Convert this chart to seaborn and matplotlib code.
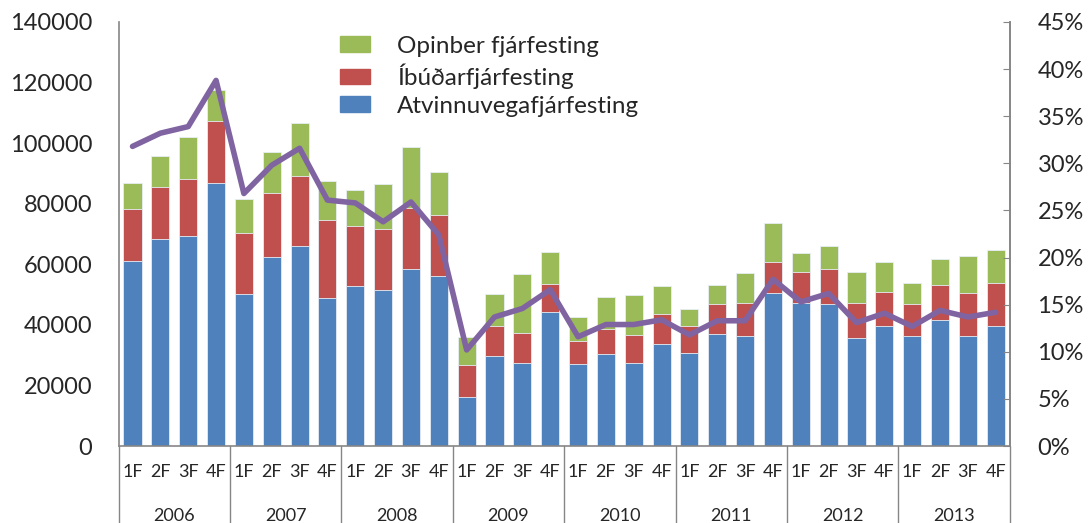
import numpy as np
import pandas as pd
import matplotlib
matplotlib.use("Agg")
import matplotlib.pyplot as plt
import matplotlib.transforms as mtransforms
from matplotlib.patches import Patch
from matplotlib.ticker import PercentFormatter
import seaborn as sns

sns.set_style("white")
plt.rcParams['font.family'] = ['Lato', 'DejaVu Sans']

ar = ['2006', '2007', '2008', '2009', '2010', '2011', '2012', '2013']
fjordungar = ['1F', '2F', '3F', '4F']

# m.kr. á fjórðungi
atvinnuvega = [61.1, 68.2, 69.5, 86.7, 50.1, 62.5, 66.1, 48.8,
               52.7, 51.5, 58.3, 56.3, 16.1, 29.6, 27.5, 44.2,
               27.0, 30.4, 27.6, 33.6, 30.7, 37.0, 36.5, 50.6,
               47.1, 47.0, 35.6, 39.7, 36.2, 41.5, 36.5, 39.8]
ibudar = [17.1, 17.3, 18.7, 20.7, 20.4, 21.2, 23.0, 25.8,
          20.0, 20.1, 20.2, 20.0, 10.7, 9.9, 9.9, 9.4,
          7.8, 8.3, 9.1, 10.0, 9.0, 9.8, 10.6, 10.2,
          10.4, 11.3, 11.7, 11.2, 10.8, 11.6, 14.1, 14.0]
opinber = [8.6, 10.4, 13.8, 10.1, 11.0, 13.3, 17.4, 12.9,
           11.8, 14.8, 20.2, 14.1, 9.1, 10.8, 19.4, 10.4,
           7.8, 10.4, 13.1, 9.3, 5.4, 6.4, 9.9, 12.7,
           6.1, 7.7, 10.1, 9.8, 6.9, 8.5, 12.1, 11.0]
# hlutfall (hægri ás)
hlutfall = [31.8, 33.2, 33.9, 38.8, 26.8, 29.8, 31.6, 26.1,
            25.8, 23.8, 25.9, 22.4, 10.2, 13.7, 14.6, 16.6,
            11.6, 12.9, 12.9, 13.4, 11.8, 13.3, 13.3, 17.7,
            15.3, 16.2, 13.1, 14.1, 12.7, 14.4, 13.7, 14.2]

df = pd.DataFrame({
    'nr': np.arange(len(atvinnuvega)),
    'atv': np.array(atvinnuvega) * 1000,
    'ibu': np.array(ibudar) * 1000,
    'opi': np.array(opinber) * 1000,
    'hlut': np.array(hlutfall) / 100,
})
df['lag2'] = df['atv'] + df['ibu']
df['lag3'] = df['lag2'] + df['opi']

blar = '#4F81BD'
raudur = '#C0504D'
graenn = '#9BBB59'
fjolubl = '#8064A2'
grar = '#868686'

fig, ax = plt.subplots(figsize=(10.88, 5.23), dpi=100)
fig.subplots_adjust(left=0.109, right=0.928, bottom=0.147, top=0.958)

for col, c in [('lag3', graenn), ('lag2', raudur), ('atv', blar)]:
    sns.barplot(x='nr', y=col, data=df, color=c, width=0.65, ax=ax,
                edgecolor='#E8EEF5', linewidth=0.6, saturation=1)

ax.set_xlim(-0.5, len(df) - 0.5)
ax.set_ylim(0, 140000)
ax.set_yticks(np.arange(0, 140001, 20000))
ax.tick_params(axis='y', labelsize=17, length=0, pad=19)
ax.set_xticks(df['nr'])
ax.set_xticklabels(fjordungar * len(ar), fontsize=13)
ax.tick_params(axis='x', length=0, pad=13)
ax.set_xlabel('')
ax.set_ylabel('')
for s in ['left', 'bottom', 'right']:
    ax.spines[s].set_color(grar)
    ax.spines[s].set_linewidth(1.2)
ax.spines['top'].set_visible(False)

# ár og skilalínur undir ásnum
trans = mtransforms.blended_transform_factory(ax.transData, ax.transAxes)
for i in range(len(ar) + 1):
    ax.plot([i * 4 - 0.5] * 2, [0, -0.185], transform=trans, color=grar,
            lw=1.0, clip_on=False)
for i, a in enumerate(ar):
    ax.text(i * 4 + 1.5, -0.165, a, transform=trans, ha='center',
            va='center', fontsize=13)

ax2 = ax.twinx()
sns.lineplot(x='nr', y='hlut', data=df, color=fjolubl, lw=4, ax=ax2)
ax2.set_ylim(0, 0.45)
ax2.set_yticks(np.arange(0, 0.451, 0.05))
ax2.yaxis.set_major_formatter(PercentFormatter(1.0, decimals=0))
ax2.tick_params(axis='y', labelsize=17, direction='in', length=5,
                color=grar, pad=20)
ax2.set_ylabel('')
for s in ['left', 'bottom', 'top']:
    ax2.spines[s].set_visible(False)
ax2.spines['right'].set_color(grar)
ax2.spines['right'].set_linewidth(1.2)

handles = [Patch(color=graenn), Patch(color=raudur), Patch(color=blar)]
ax.legend(handles, ['Opinber fjárfesting', 'Íbúðarfjárfesting',
                    'Atvinnuvegafjárfesting'],
          loc='upper left', bbox_to_anchor=(0.224, 1.019), frameon=False,
          fontsize=17.5, handlelength=1.25, handleheight=0.62,
          labelspacing=0.28, handletextpad=1.1)

plt.savefig('out.png', dpi=100)
